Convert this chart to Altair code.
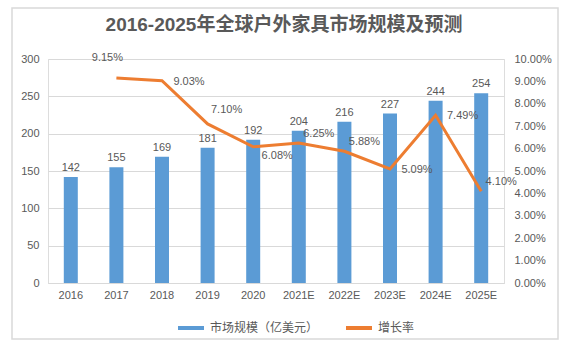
import altair as alt
import pandas as pd

years = ["2016", "2017", "2018", "2019", "2020", "2021E", "2022E", "2023E", "2024E", "2025E"]
market = [142, 155, 169, 181, 192, 204, 216, 227, 244, 254]
growth = [None, 0.0915, 0.0903, 0.0710, 0.0608, 0.0625, 0.0588, 0.0509, 0.0749, 0.0410]
left_ticks = [0, 50, 100, 150, 200, 250, 300]
right_ticks = [0.0, 0.01, 0.02, 0.03, 0.04, 0.05, 0.06, 0.07, 0.08, 0.09, 0.10]
series_bar = "市场规模（亿美元）"
series_line = "增长率"
title_text = "2016-2025年全球户外家具市场规模及预测"

BLUE = "#5B9BD5"
ORANGE = "#ED7D31"
TEXT = "#595959"
GRID = "#D9D9D9"
FONT = "Liberation Sans, Noto Sans CJK SC"

df = pd.DataFrame({"year": years, "market": market, "growth": growth})

x_enc = alt.X("year:N", sort=years, scale=alt.Scale(paddingInner=0, paddingOuter=0),
              axis=alt.Axis(title=None, labelAngle=0, labelColor=TEXT, labelFontSize=11, labelFont=FONT,
                            labelPadding=6, ticks=False, domainColor=GRID, grid=False))

color_scale = alt.Scale(domain=[series_bar, series_line], range=[BLUE, ORANGE])
legend = alt.Legend(title=None, orient="none", legendX=128, legendY=254, direction="horizontal",
                    symbolType="stroke", symbolSize=676, symbolStrokeWidth=4,
                    labelFontSize=12, labelColor=TEXT, labelFont=FONT, columnPadding=19, labelOffset=4)

base = alt.Chart(df)

y_left = alt.Y("market:Q", scale=alt.Scale(domain=[0, 300]),
               axis=alt.Axis(title=None, values=left_ticks, labelColor=TEXT, labelFontSize=11, labelFont=FONT,
                             ticks=False, domain=False, gridColor=GRID, labelPadding=9))

bars = base.transform_calculate(series=f"'{series_bar}'").mark_bar(size=14).encode(
    x=x_enc, y=y_left,
    color=alt.Color("series:N", scale=color_scale, legend=legend),
)
bar_text = base.mark_text(dy=-9, fontSize=11, color=TEXT, font=FONT).encode(
    x=x_enc, y=y_left, text=alt.Text("market:Q")
)

y_right = alt.Y("growth:Q", scale=alt.Scale(domain=[0, 0.10]),
                axis=alt.Axis(title=None, orient="right", values=right_ticks, format=".2%", labelColor=TEXT,
                              labelFontSize=11, labelFont=FONT, ticks=False, domain=False, grid=False,
                              labelPadding=10))

line_base = base.transform_filter("isValid(datum.growth)")
line = line_base.transform_calculate(series=f"'{series_line}'").mark_line(strokeWidth=3, strokeJoin="miter").encode(
    x=x_enc, y=y_right,
    color=alt.Color("series:N", scale=color_scale, legend=legend),
)


def label_layer(sel, dx, dy):
    return line_base.transform_filter(alt.FieldOneOfPredicate(field="year", oneOf=sel)).mark_text(
        dx=dx, dy=dy, fontSize=11, color=TEXT, font=FONT
    ).encode(x=x_enc, y=y_right, text=alt.Text("growth:Q", format=".2%"))


line_labels = [
    label_layer(["2017"], -9, -20),
    label_layer(["2018", "2023E", "2024E"], 27, 1),
    label_layer(["2019"], 19, -14),
    label_layer(["2021E", "2022E", "2025E"], 20, -9),
    label_layer(["2020"], 24, 9),
]

border = alt.Chart(alt.Data(values=[{}])).mark_rect(fill=None, stroke=GRID, strokeWidth=1.5).encode(
    x=alt.value(-36), x2=alt.value(510), y=alt.value(-51), y2=alt.value(280)
)

title = alt.Chart(alt.Data(values=[{"t": title_text}])).mark_text(
    fontSize=19, font=FONT, fontWeight="bold", color=TEXT, align="center", baseline="middle"
).encode(x=alt.value(236), y=alt.value(-34), text="t:N")

left = alt.layer(bars, bar_text)
right = alt.layer(line, *line_labels)

chart = alt.layer(border, title, left, right).resolve_scale(y="independent").properties(
    width=456, height=224,
    autosize=alt.AutoSizeParams(type="none"),
    padding={"left": 48, "top": 59, "right": 64, "bottom": 65},
).configure_view(stroke=None).configure(background="white")

chart.save("out.html", embed_options={"renderer": "svg", "actions": False})
